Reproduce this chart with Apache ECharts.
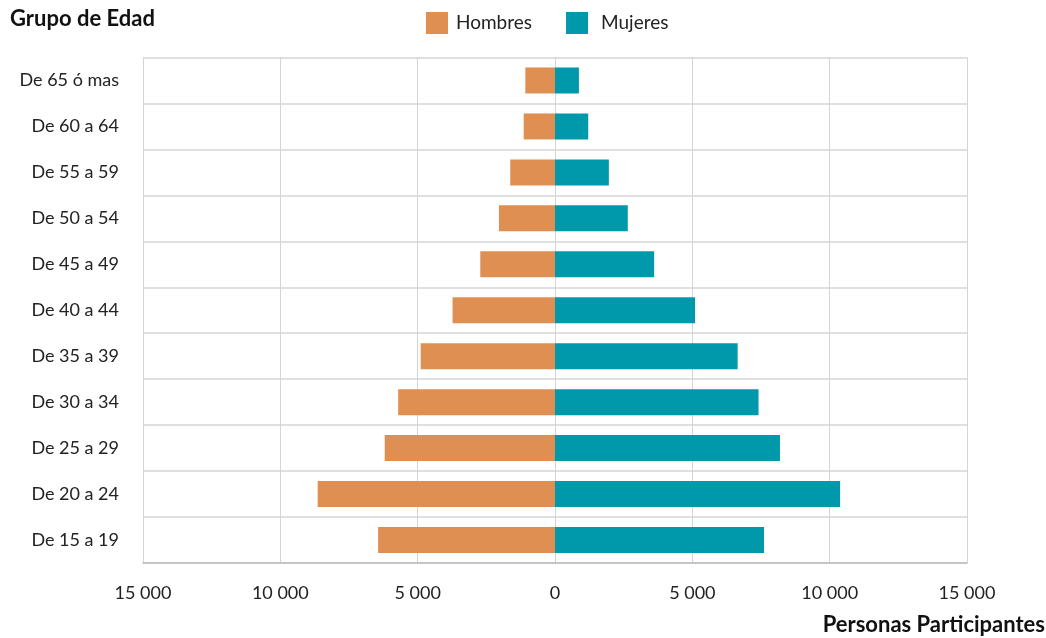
<!DOCTYPE html>
<html>
<head>
<meta charset="utf-8">
<script src="https://cdn.jsdelivr.net/npm/echarts@6/dist/echarts.min.js"></script>
<style>html,body{margin:0;padding:0;background:#fff}#c{width:1046px;height:638px}</style>
</head>
<body>
<div id="c"></div>
<script>
const categories = ['De 15 a 19','De 20 a 24','De 25 a 29','De 30 a 34','De 35 a 39','De 40 a 44','De 45 a 49','De 50 a 54','De 55 a 59','De 60 a 64','De 65 ó mas'];
const hombres = [6440, 8640, 6200, 5710, 4890, 3730, 2720, 2040, 1630, 1140, 1080];
const mujeres = [7610, 10380, 8190, 7410, 6650, 5100, 3610, 2650, 1960, 1210, 870];
const xTicks = { min: -15000, max: 15000, interval: 5000 };

const fmt = v => String(Math.abs(v)).replace(/\B(?=(\d{3})+(?!\d))/g, ' ');
const FONT = 'Lato';
const chart = echarts.init(document.getElementById('c'));
chart.setOption({
  animation: false,
  textStyle: { fontFamily: FONT },
  title: [
    { text: 'Grupo de Edad', left: 10, top: 8, padding: 0, textStyle: { fontFamily: FONT, fontWeight: 'bold', fontSize: 22, color: '#111' } },
    { text: 'Personas Participantes', right: 1, top: 614, padding: 0, textStyle: { fontFamily: FONT, fontWeight: 'bold', fontSize: 22, color: '#111' } }
  ],
  legend: {
    left: 426, top: 12, padding: 0,
    itemWidth: 22, itemHeight: 22, itemGap: 34,
    icon: 'rect',
    textStyle: { fontFamily: FONT, fontSize: 19, color: '#222', padding: [0, 0, 0, 3] },
    data: [
      { name: 'Hombres' },
      { name: 'Mujeres', textStyle: { padding: [0, 0, 0, 8] } }
    ]
  },
  grid: { left: 143, right: 79, top: 57.5, bottom: 75, containLabel: false },
  xAxis: {
    type: 'value',
    min: xTicks.min, max: xTicks.max, interval: xTicks.interval,
    axisLine: { show: true, lineStyle: { color: '#bdbdbd', width: 1.5 } },
    axisTick: { show: false },
    axisLabel: { formatter: fmt, fontFamily: FONT, fontSize: 18, color: '#222', margin: 21 },
    splitLine: { show: true, lineStyle: { color: '#d4d4d4', width: 1 } }
  },
  yAxis: {
    type: 'category',
    data: categories,
    axisLine: { show: true, lineStyle: { color: '#d4d4d4' } },
    axisTick: { show: false },
    axisLabel: { fontFamily: FONT, fontSize: 18, color: '#222', margin: 24 },
    splitLine: { show: true, lineStyle: { color: '#d4d4d4', width: 1.5 } }
  },
  series: [
    {
      name: 'Hombres', type: 'bar', stack: 'p', barWidth: 26,
      itemStyle: { color: '#E08F52' },
      data: hombres.map(v => -v)
    },
    {
      name: 'Mujeres', type: 'bar', stack: 'p', barWidth: 26,
      itemStyle: { color: '#0098AB' },
      data: mujeres
    }
  ]
});
</script>
</body>
</html>
